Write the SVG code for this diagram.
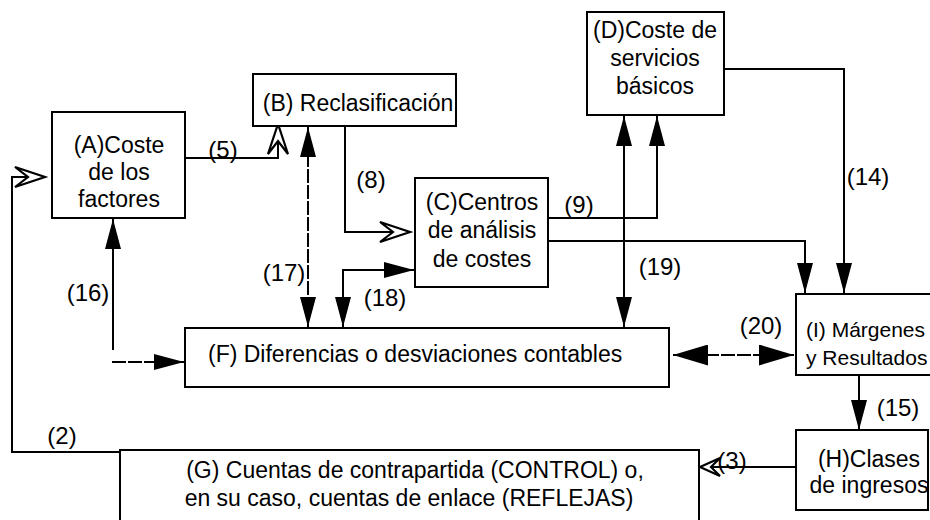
<svg xmlns="http://www.w3.org/2000/svg" width="930" height="520" viewBox="0 0 930 520">
<style>
  .box{fill:#fff;stroke:#000;stroke-width:2}
  .t{font-family:"Liberation Sans",Arial,sans-serif;font-size:23px;fill:#000}
  .c{text-anchor:middle}
  .lbl{font-family:"Liberation Sans",Arial,sans-serif;font-size:24px;fill:#000;text-anchor:middle}
  .ln{fill:none;stroke:#000;stroke-width:2}
  .dash{stroke-dasharray:14 2}
  .a{marker-end:url(#ah)}
  .a2{marker-start:url(#ah);marker-end:url(#ah)}
  .o{marker-end:url(#open)}
</style>
<defs>
  <marker id="ah" viewBox="0 0 30 16" refX="30" refY="8" markerWidth="30" markerHeight="16" markerUnits="userSpaceOnUse" orient="auto-start-reverse">
    <path d="M0,0 L30,8 L0,16 z" fill="#000"/>
  </marker>
  <marker id="ahL" viewBox="0 0 35 21" refX="35" refY="10.5" markerWidth="35" markerHeight="21" markerUnits="userSpaceOnUse" orient="auto-start-reverse">
    <path d="M0,0 L35,10.5 L0,21 z" fill="#000"/>
  </marker>
  <marker id="open" viewBox="-3 -3 36 26" refX="30" refY="10" markerWidth="36" markerHeight="26" markerUnits="userSpaceOnUse" orient="auto" overflow="visible">
    <path d="M0,0 L30,10 L0,20 L13,10 z" fill="#fff" stroke="#000" stroke-width="2.2" stroke-linejoin="miter"/>
  </marker>
  <marker id="openS" viewBox="-3 -3 26 22" refX="20" refY="9" markerWidth="26" markerHeight="22" markerUnits="userSpaceOnUse" orient="auto" overflow="visible">
    <path d="M0,0 L20,9 L0,18 L9,9 z" fill="#fff" stroke="#000" stroke-width="2.2" stroke-linejoin="miter"/>
  </marker>
</defs>
<rect width="930" height="520" fill="#fff"/>

<g id="connectors">
  <!-- (5) A -> B -->
  <path class="ln o" d="M185,158 H278 V124"/>
  <!-- (8) B -> C -->
  <path class="ln o" d="M345,126 V232 H410"/>
  <!-- (9) C -> D -->
  <path class="ln a" d="M548,218 H657 V116"/>
  <!-- C -> I -->
  <path class="ln a" d="M549,241 H805 V293"/>
  <!-- (14) D -> I -->
  <path class="ln a" d="M724,69 H844 V293"/>
  <!-- (15) I -> H -->
  <path class="ln a" d="M859,375 V430"/>
  <!-- (3) H -> G -->
  <path class="ln" d="M796,467 H700" style="marker-end:url(#openS)"/>
  <!-- (2) G -> A -->
  <path class="ln o" d="M120,452 H12 V177 H45"/>
  <!-- (16) -->
  <path class="ln a" d="M113,350 V219"/>
  <path class="ln dash a" d="M112,362 H184"/>
  <!-- (17) F <-> B -->
  <path class="ln dash a2" d="M308,327 V127"/>
  <!-- (18) F <-> C -->
  <path class="ln a2" d="M343,327 V270 H414"/>
  <!-- (19) F <-> D -->
  <path class="ln a2" d="M624,327 V116"/>
  <!-- (20) F <-> I -->
  <path class="ln dash" d="M673,355 H794" style="marker-start:url(#ahL);marker-end:url(#ahL)"/>
</g>

<g id="labels">
  <text class="lbl" x="223" y="158">(5)</text>
  <text class="lbl" x="371" y="188">(8)</text>
  <text class="lbl" x="579" y="213">(9)</text>
  <text class="lbl" x="868" y="185">(14)</text>
  <text class="lbl" x="284" y="281">(17)</text>
  <text class="lbl" x="88" y="301">(16)</text>
  <text class="lbl" x="385" y="306">(18)</text>
  <text class="lbl" x="660" y="275">(19)</text>
  <text class="lbl" x="761" y="334">(20)</text>
  <text class="lbl" x="898" y="416">(15)</text>
  <text class="lbl" x="62" y="444">(2)</text>
  <text class="lbl" x="732" y="469">(3)</text>
</g>

<g id="nodeA">
  <rect class="box" x="52" y="112" width="133" height="106"/>
  <text class="t c" x="119" y="153">(A)Coste</text>
  <text class="t c" x="119" y="180">de los</text>
  <text class="t c" x="119" y="207">factores</text>
</g>
<g id="nodeB">
  <rect class="box" x="253" y="74" width="203" height="52"/>
  <text class="t c" x="358" y="111">(B) Reclasificación</text>
</g>
<g id="nodeC">
  <rect class="box" x="415" y="178" width="133" height="109"/>
  <text class="t c" x="482" y="210">(C)Centros</text>
  <text class="t c" x="482" y="238">de análisis</text>
  <text class="t c" x="482" y="267">de costes</text>
</g>
<g id="nodeD">
  <rect class="box" x="587" y="12" width="137" height="103"/>
  <text class="t c" x="655" y="38">(D)Coste de</text>
  <text class="t c" x="655" y="66">servicios</text>
  <text class="t c" x="655" y="94">básicos</text>
</g>
<g id="nodeF">
  <rect class="box" x="185" y="328" width="484" height="59"/>
  <text class="t" x="208" y="362">(F) Diferencias o desviaciones contables</text>
</g>
<g id="nodeI">
  <rect class="box" x="796" y="294" width="145" height="81"/>
  <text class="t" x="806" y="337" style="font-size:21px">(I) Márgenes</text>
  <text class="t" x="806" y="365" style="font-size:21px">y Resultados</text>
</g>
<g id="nodeH">
  <rect class="box" x="796" y="430" width="132" height="80"/>
  <text class="t c" x="869" y="467">(H)Clases</text>
  <text class="t c" x="869" y="493">de ingresos</text>
</g>
<g id="nodeG">
  <rect class="box" x="120" y="450" width="579" height="80"/>
  <text class="t c" x="415" y="478">(G) Cuentas de contrapartida (CONTROL) o,</text>
  <text class="t c" x="409" y="506">en su caso, cuentas de enlace (REFLEJAS)</text>
</g>
</svg>
